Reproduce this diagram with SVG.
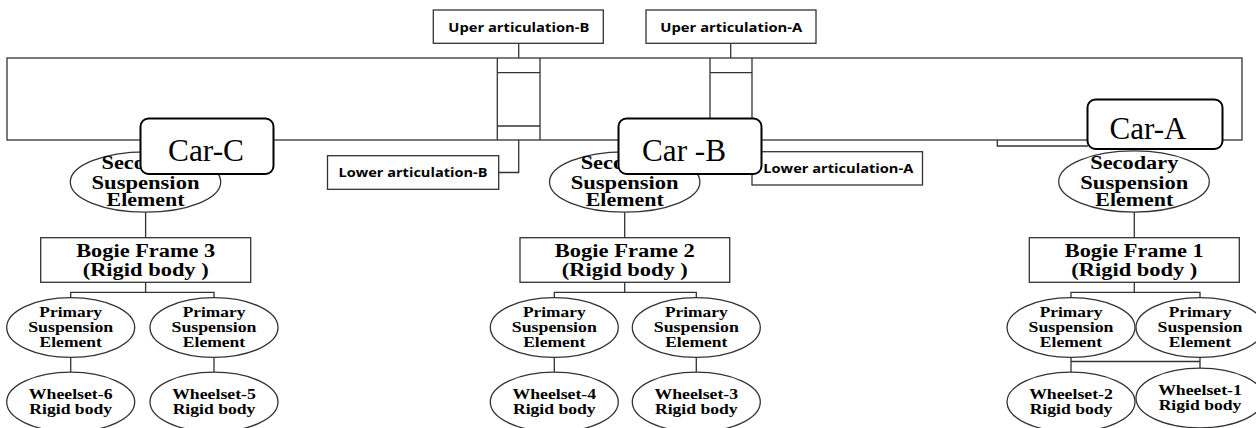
<svg xmlns="http://www.w3.org/2000/svg" width="1256" height="428" viewBox="0 0 1256 428">
<style>
.ln{fill:none;stroke:#333;stroke-width:1.3}
.bx{fill:#fff;stroke:#333;stroke-width:1.3}
.car{fill:#fff;stroke:#000;stroke-width:2}
.ct{font-family:"Liberation Serif","Times New Roman",serif;font-size:32px;fill:#000;text-anchor:middle}
.sans{font-family:"Open Sans","Liberation Sans",sans-serif;font-weight:bold;font-size:11.5px;fill:#000;text-anchor:middle}
.s18{font-family:"Liberation Serif","Times New Roman",serif;font-weight:bold;font-size:18px;fill:#000;text-anchor:middle}
.s15{font-family:"Liberation Serif","Times New Roman",serif;font-weight:bold;font-size:15px;fill:#000;text-anchor:middle}
</style>
<rect width="1256" height="428" fill="#fff"/>

<g id="car-body">
<rect class="ln" x="7" y="58" width="1235" height="82"/>
</g>

<g id="articulation-B">
<path class="ln" d="M497.3 58V140M540 58V140M497.3 72.7H540M497.3 126H540"/>
</g>
<g id="articulation-A">
<path class="ln" d="M710 58V140M752 58V152M710 72.7H752"/>
</g>

<g id="connectors">
<path class="ln" d="M518.7 43.3V58"/>
<path class="ln" d="M730.7 43.3V58"/>
<path class="ln" d="M518.7 140V172.5H498.7"/>
<path class="ln" d="M997.3 140V146H1088"/>
<path class="ln" d="M145.6 212V237.7M145.6 282.3V292.3M70.7 297.5V292.3H214V297.5M70.7 357.3V372.3M214 357.3V372.3"/>
<path class="ln" d="M624.7 212V237.7M624.7 282.3V292.3M554.3 297.5V292.3H696.3V297.5M554.3 357.3V372.3M696.3 357.3V372.3"/>
<path class="ln" d="M1134.3 212V237.7M1134.3 282.3V292.3M1071 297.5V292.3H1200V297.5M1071 357.3V372.3M1200 357.3V368.3M1071 361.5H1200"/>
</g>

<g id="uper-articulation-B">
<rect class="bx" x="433.3" y="10" width="170" height="33.3"/>
<text class="sans" x="518.8" y="31.5" textLength="141" lengthAdjust="spacingAndGlyphs">Uper articulation-B</text>
</g>
<g id="uper-articulation-A">
<rect class="bx" x="646" y="10" width="170" height="33.3"/>
<text class="sans" x="731.3" y="31.5" textLength="142" lengthAdjust="spacingAndGlyphs">Uper articulation-A</text>
</g>
<g id="lower-articulation-B">
<rect class="bx" x="327.5" y="155.7" width="171.2" height="33.6"/>
<text class="sans" x="413" y="176.5" textLength="149" lengthAdjust="spacingAndGlyphs">Lower articulation-B</text>
</g>
<g id="lower-articulation-A">
<rect class="bx" x="752" y="151.7" width="170.5" height="33.3"/>
<text class="sans" x="838.3" y="173" textLength="150" lengthAdjust="spacingAndGlyphs">Lower articulation-A</text>
</g>

<g id="secondary-C">
<ellipse class="bx" cx="145.5" cy="182" rx="75.2" ry="30.2"/>
<text class="s18" x="101.5" y="168.5" text-anchor="start" style="text-anchor:start" textLength="43.4" lengthAdjust="spacingAndGlyphs">Seco</text>
<text class="s18" x="145.5" y="188.5" textLength="108" lengthAdjust="spacingAndGlyphs">Suspension</text>
<text class="s18" x="145.5" y="206.3" textLength="78" lengthAdjust="spacingAndGlyphs">Element</text>
</g>
<g id="secondary-B">
<ellipse class="bx" cx="624.7" cy="182" rx="75.2" ry="30.2"/>
<text class="s18" x="580.7" y="168.5" style="text-anchor:start" textLength="43.4" lengthAdjust="spacingAndGlyphs">Seco</text>
<text class="s18" x="624.7" y="188.5" textLength="108" lengthAdjust="spacingAndGlyphs">Suspension</text>
<text class="s18" x="624.7" y="206.3" textLength="78" lengthAdjust="spacingAndGlyphs">Element</text>
</g>
<g id="secondary-A">
<ellipse class="bx" cx="1134" cy="181.5" rx="75.3" ry="30.6"/>
<text class="s18" x="1134.3" y="168.5" textLength="88" lengthAdjust="spacingAndGlyphs">Secodary</text>
<text class="s18" x="1134.3" y="188.5" textLength="108" lengthAdjust="spacingAndGlyphs">Suspension</text>
<text class="s18" x="1134.3" y="206.3" textLength="78" lengthAdjust="spacingAndGlyphs">Element</text>
</g>

<g id="car-C">
<rect class="car" x="140.5" y="118.5" width="133" height="55.5" rx="8"/>
<text class="ct" x="206" y="161" textLength="76" lengthAdjust="spacingAndGlyphs">Car-C</text>
</g>
<g id="car-B">
<rect class="car" x="618.5" y="118.5" width="143" height="55.5" rx="8"/>
<text class="ct" x="684" y="161" textLength="84" lengthAdjust="spacingAndGlyphs">Car -B</text>
</g>
<g id="car-A">
<rect class="car" x="1087.5" y="99.5" width="135" height="49.5" rx="8"/>
<text class="ct" x="1148" y="139.3" textLength="77" lengthAdjust="spacingAndGlyphs">Car-A</text>
</g>

<g id="bogie-frame-3">
<rect class="bx" x="40.7" y="237.7" width="210" height="44.6"/>
<text class="s18" x="145.7" y="256.7" textLength="139" lengthAdjust="spacingAndGlyphs">Bogie Frame 3</text>
<text class="s18" x="145.7" y="276" textLength="126" lengthAdjust="spacingAndGlyphs">(Rigid body )</text>
</g>
<g id="bogie-frame-2">
<rect class="bx" x="520" y="237.7" width="209.7" height="44.6"/>
<text class="s18" x="624.8" y="256.7" textLength="140" lengthAdjust="spacingAndGlyphs">Bogie Frame 2</text>
<text class="s18" x="624.8" y="276" textLength="126" lengthAdjust="spacingAndGlyphs">(Rigid body )</text>
</g>
<g id="bogie-frame-1">
<rect class="bx" x="1029.3" y="237.7" width="210" height="44.6"/>
<text class="s18" x="1134.3" y="256.7" textLength="139" lengthAdjust="spacingAndGlyphs">Bogie Frame 1</text>
<text class="s18" x="1134.3" y="276" textLength="126" lengthAdjust="spacingAndGlyphs">(Rigid body )</text>
</g>

<g id="primary-6">
<ellipse class="bx" cx="70.7" cy="327.5" rx="64" ry="29.8"/>
<text class="s15" x="70.7" y="317.3" textLength="62.7" lengthAdjust="spacingAndGlyphs">Primary</text>
<text class="s15" x="70.7" y="332.3" textLength="85" lengthAdjust="spacingAndGlyphs">Suspension</text>
<text class="s15" x="70.7" y="347.3" textLength="62.3" lengthAdjust="spacingAndGlyphs">Element</text>
</g>
<g id="primary-5">
<ellipse class="bx" cx="214" cy="327.5" rx="64" ry="29.8"/>
<text class="s15" x="214" y="317.3" textLength="62.7" lengthAdjust="spacingAndGlyphs">Primary</text>
<text class="s15" x="214" y="332.3" textLength="85" lengthAdjust="spacingAndGlyphs">Suspension</text>
<text class="s15" x="214" y="347.3" textLength="62.3" lengthAdjust="spacingAndGlyphs">Element</text>
</g>
<g id="primary-4">
<ellipse class="bx" cx="554.3" cy="327.5" rx="64" ry="29.8"/>
<text class="s15" x="554.3" y="317.3" textLength="62.7" lengthAdjust="spacingAndGlyphs">Primary</text>
<text class="s15" x="554.3" y="332.3" textLength="85" lengthAdjust="spacingAndGlyphs">Suspension</text>
<text class="s15" x="554.3" y="347.3" textLength="62.3" lengthAdjust="spacingAndGlyphs">Element</text>
</g>
<g id="primary-3">
<ellipse class="bx" cx="696.3" cy="327.5" rx="64" ry="29.8"/>
<text class="s15" x="696.3" y="317.3" textLength="62.7" lengthAdjust="spacingAndGlyphs">Primary</text>
<text class="s15" x="696.3" y="332.3" textLength="85" lengthAdjust="spacingAndGlyphs">Suspension</text>
<text class="s15" x="696.3" y="347.3" textLength="62.3" lengthAdjust="spacingAndGlyphs">Element</text>
</g>
<g id="primary-2">
<ellipse class="bx" cx="1071" cy="327.5" rx="64" ry="29.8"/>
<text class="s15" x="1071" y="317.3" textLength="62.7" lengthAdjust="spacingAndGlyphs">Primary</text>
<text class="s15" x="1071" y="332.3" textLength="85" lengthAdjust="spacingAndGlyphs">Suspension</text>
<text class="s15" x="1071" y="347.3" textLength="62.3" lengthAdjust="spacingAndGlyphs">Element</text>
</g>
<g id="primary-1">
<ellipse class="bx" cx="1200" cy="327.5" rx="64" ry="29.8"/>
<text class="s15" x="1200" y="317.3" textLength="62.7" lengthAdjust="spacingAndGlyphs">Primary</text>
<text class="s15" x="1200" y="332.3" textLength="85" lengthAdjust="spacingAndGlyphs">Suspension</text>
<text class="s15" x="1200" y="347.3" textLength="62.3" lengthAdjust="spacingAndGlyphs">Element</text>
</g>

<g id="wheelset-6">
<ellipse class="bx" cx="70.7" cy="402" rx="64" ry="29.8"/>
<text class="s15" x="70.7" y="399" textLength="83.7" lengthAdjust="spacingAndGlyphs">Wheelset-6</text>
<text class="s15" x="70.7" y="414" textLength="82.7" lengthAdjust="spacingAndGlyphs">Rigid body</text>
</g>
<g id="wheelset-5">
<ellipse class="bx" cx="214" cy="402" rx="64" ry="29.8"/>
<text class="s15" x="214" y="399" textLength="83.7" lengthAdjust="spacingAndGlyphs">Wheelset-5</text>
<text class="s15" x="214" y="414" textLength="82.7" lengthAdjust="spacingAndGlyphs">Rigid body</text>
</g>
<g id="wheelset-4">
<ellipse class="bx" cx="554.3" cy="402" rx="64" ry="29.8"/>
<text class="s15" x="554.3" y="399" textLength="83.7" lengthAdjust="spacingAndGlyphs">Wheelset-4</text>
<text class="s15" x="554.3" y="414" textLength="82.7" lengthAdjust="spacingAndGlyphs">Rigid body</text>
</g>
<g id="wheelset-3">
<ellipse class="bx" cx="696.3" cy="402" rx="64" ry="29.8"/>
<text class="s15" x="696.3" y="399" textLength="83.7" lengthAdjust="spacingAndGlyphs">Wheelset-3</text>
<text class="s15" x="696.3" y="414" textLength="82.7" lengthAdjust="spacingAndGlyphs">Rigid body</text>
</g>
<g id="wheelset-2">
<ellipse class="bx" cx="1071" cy="402" rx="64" ry="29.8"/>
<text class="s15" x="1071" y="399" textLength="83.7" lengthAdjust="spacingAndGlyphs">Wheelset-2</text>
<text class="s15" x="1071" y="414" textLength="82.7" lengthAdjust="spacingAndGlyphs">Rigid body</text>
</g>
<g id="wheelset-1">
<ellipse class="bx" cx="1200" cy="398" rx="64" ry="29.8"/>
<text class="s15" x="1200" y="395.3" textLength="83.7" lengthAdjust="spacingAndGlyphs">Wheelset-1</text>
<text class="s15" x="1200" y="410.3" textLength="82.7" lengthAdjust="spacingAndGlyphs">Rigid body</text>
</g>
</svg>
